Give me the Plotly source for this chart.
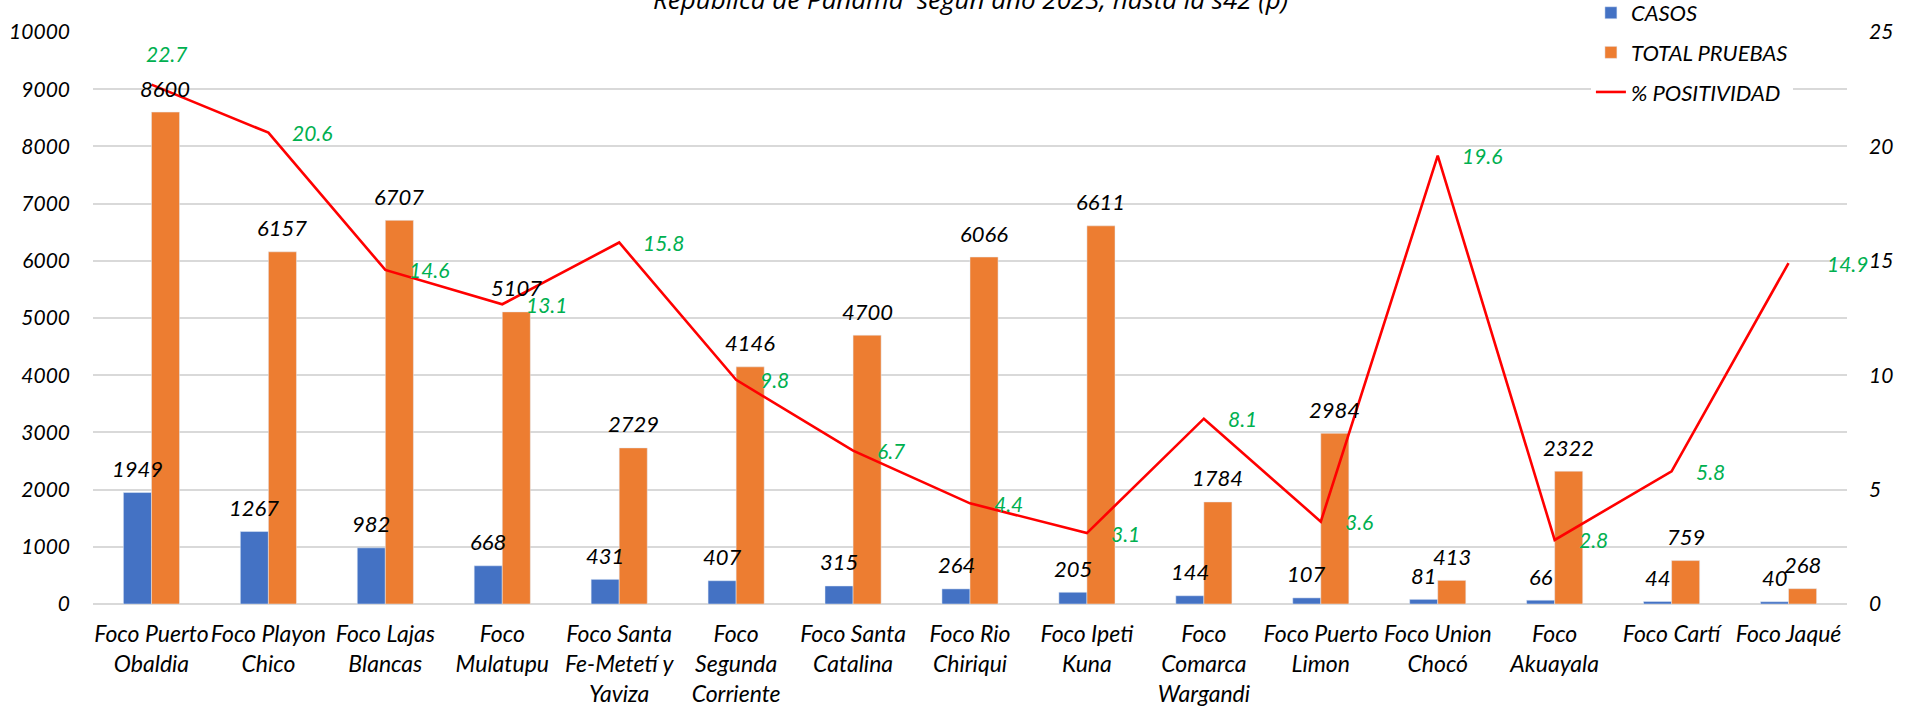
import plotly.graph_objects as go

categorias = [
    "Foco Puerto<br>Obaldia", "Foco Playon<br>Chico", "Foco Lajas<br>Blancas",
    "Foco<br>Mulatupu", "Foco Santa<br>Fe-Metetí y<br>Yaviza", "Foco<br>Segunda<br>Corriente",
    "Foco Santa<br>Catalina", "Foco Rio<br>Chiriqui", "Foco Ipeti<br>Kuna",
    "Foco<br>Comarca<br>Wargandi", "Foco Puerto<br>Limon", "Foco Union<br>Chocó",
    "Foco<br>Akuayala", "Foco Cartí", "Foco Jaqué",
]
casos = [1949, 1267, 982, 668, 431, 407, 315, 264, 205, 144, 107, 81, 66, 44, 40]
total_pruebas = [8600, 6157, 6707, 5107, 2729, 4146, 4700, 6066, 6611, 1784, 2984, 413, 2322, 759, 268]
positividad = [22.7, 20.6, 14.6, 13.1, 15.8, 9.8, 6.7, 4.4, 3.1, 8.1, 3.6, 19.6, 2.8, 5.8, 14.9]
ticks_izq = [0, 1000, 2000, 3000, 4000, 5000, 6000, 7000, 8000, 9000, 10000]
ticks_der = [0, 5, 10, 15, 20, 25]
titulo = "República de Panamá  según año 2023, hasta la s42 (p)"

FONT = "Lato"
FS = 21
BLUE = "#4472C4"
ORANGE = "#ED7D31"
RED = "#FF0000"
GREEN = "#00B050"

def f(size=FS, color="#000000", family=FONT):
    return dict(family=family, size=size, color=color, style="italic")

fig = go.Figure()
fig.add_trace(go.Bar(x=categorias, y=casos, name="CASOS", marker_color=BLUE,
                     legendgroup="a", offsetgroup="a"))
fig.add_trace(go.Bar(x=categorias, y=total_pruebas, name="TOTAL PRUEBAS", marker_color=ORANGE,
                     legendgroup="b", offsetgroup="b"))
fig.add_trace(go.Scatter(x=categorias, y=positividad, name="% POSITIVIDAD", mode="lines",
                         line=dict(color=RED, width=2.6), yaxis="y2", legendgroup="c"))

ann = []
for c, v in zip(categorias, casos):
    ann.append(dict(x=c, y=v, xref="x", yref="y", text=str(v), showarrow=False,
                    xshift=-14, yshift=24, yanchor="middle", xanchor="center", font=f(22)))
for c, v in zip(categorias, total_pruebas):
    ann.append(dict(x=c, y=v, xref="x", yref="y", text=str(v), showarrow=False,
                    xshift=14, yshift=24, yanchor="middle", xanchor="center", font=f(22)))
for i, (c, v) in enumerate(zip(categorias, positividad)):
    if i == 0:
        d = dict(xshift=15, yshift=31, xanchor="center")
    elif i == len(categorias) - 1:
        d = dict(xshift=36, yshift=0, xanchor="left")
    else:
        d = dict(xshift=22, yshift=0, xanchor="left")
    ann.append(dict(x=c, y=v, xref="x", yref="y2", text=f"{v:.1f}", showarrow=False,
                    yanchor="middle", font=f(21, GREEN), **d))
ann.append(dict(x=0.5, y=1.0225, xref="paper", yref="paper", text=titulo, showarrow=False,
                xanchor="center", yanchor="bottom", font=f(26, family="Open Sans")))

fig.update_layout(
    width=1910, height=706,
    margin=dict(l=93, r=63, t=32, b=102, autoexpand=False),
    paper_bgcolor="white", plot_bgcolor="white",
    barmode="group", bargap=0.52, bargroupgap=0,
    font=f(),
    showlegend=True,
    legend=dict(x=0.854, y=1.07, xanchor="left", yanchor="top", bgcolor="white",
                font=f(22), tracegroupgap=8, itemwidth=30),
    xaxis=dict(showgrid=False, showline=False, ticks="", tickangle=0, automargin=False,
               range=[-0.5, len(categorias) - 0.5], autorange=False,
               tickfont=f(23), ticklabelstandoff=14),
    yaxis=dict(range=[0, 10000], tickvals=ticks_izq, ticktext=[str(t) for t in ticks_izq],
               showgrid=True, gridcolor="#D9D9D9", automargin=False,
               gridwidth=1.5, zeroline=True, zerolinecolor="#D9D9D9", zerolinewidth=1.5,
               showline=False, ticks="", ticklabelstandoff=22, tickfont=f(21)),
    yaxis2=dict(range=[0, 25], tickvals=ticks_der, ticktext=[str(t) for t in ticks_der],
                overlaying="y", side="right", automargin=False,
                showgrid=False, zeroline=False, showline=False, ticks="", ticklabelstandoff=21,
                tickfont=f(21)),
    annotations=ann,
)

fig.write_html("out.html", config={"displayModeBar": False},
               post_script="document.body.style.margin='0';document.body.style.overflow='hidden';")
